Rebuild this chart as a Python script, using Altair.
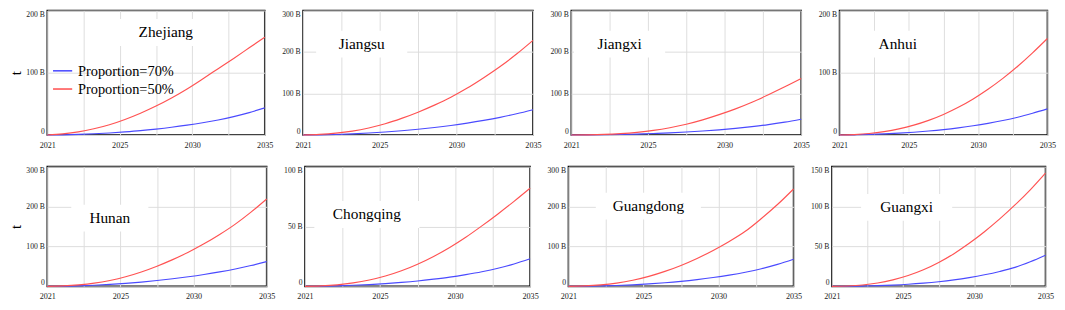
import altair as alt
import pandas as pd

SERIF = "Liberation Serif, Times New Roman, DejaVu Serif, serif"

years = list(range(2021, 2036))
series_names = ["Proportion=70%", "Proportion=50%"]
series_colors = ["#4a4aff", "#ff5252"]
provinces = ["Zhejiang", "Jiangsu", "Jiangxi", "Anhui",
             "Hunan", "Chongqing", "Guangdong", "Guangxi"]
x_tick_labels = ["2021", "2025", "2030", "2035"]

# values in billions (B), one per year 2021..2035
zhejiang_70 = [0, 0.3, 1, 2, 3.3, 5, 7, 9.5, 12.4, 15.8, 19.7, 24.2, 29.6, 36, 43.5]
zhejiang_50 = [0, 1.8, 5, 10, 16.5, 25, 35, 46.5, 59.5, 74, 90, 106.5, 123, 140, 157]
jiangsu_70 = [0, 0.4, 1.3, 2.8, 4.8, 7.3, 10.3, 13.9, 18.1, 23, 28.7, 35.2, 42.6, 51.2, 61]
jiangsu_50 = [0, 1.5, 4.5, 9.5, 17, 27, 40, 55, 72, 91, 113, 138, 165, 195, 228]
jiangxi_70 = [0, 0.2, 0.6, 1.3, 2.3, 3.6, 5.2, 7.2, 9.6, 12.5, 16, 20.2, 25, 31, 38]
jiangxi_50 = [0, 0.4, 1.4, 3.4, 6.5, 11, 17.5, 26, 36.5, 49, 63, 79, 97, 116, 136]
anhui_70 = [0, 0.3, 0.9, 1.8, 3, 4.5, 6.4, 8.7, 11.5, 14.8, 18.7, 23.2, 28.6, 35, 42]
anhui_50 = [0, 0.7, 2.4, 5.4, 9.8, 15.8, 23.5, 33, 44.5, 58, 73.5, 91, 110.5, 132, 155]
hunan_70 = [0, 0.4, 1.3, 2.8, 4.9, 7.6, 10.8, 14.6, 19, 24, 29.7, 36.2, 43.6, 52.2, 62]
hunan_50 = [0, 1.2, 3.7, 8, 14.8, 24, 36, 50.5, 67, 85.5, 106.5, 130, 156, 186, 219]
chongqing_70 = [0, 0.1, 0.4, 0.9, 1.5, 2.3, 3.3, 4.5, 6, 7.7, 9.8, 12.2, 15.1, 18.7, 23]
chongqing_50 = [0, 0.4, 1.3, 2.9, 5.3, 8.6, 13, 18.5, 25, 32.5, 41, 50.5, 60.5, 71, 82]
guangdong_70 = [0, 0.3, 1, 2.2, 3.9, 6.1, 9, 12.6, 17, 22.2, 28.3, 35.5, 44.2, 55, 68]
guangdong_50 = [0, 1.2, 3.7, 8.2, 15.2, 25, 37.5, 52.5, 70, 90, 112.5, 138, 170, 205, 244]
guangxi_70 = [0, 0.1, 0.4, 0.9, 1.6, 2.6, 4, 5.8, 8.1, 11, 14.5, 18.7, 23.8, 30.8, 39]
guangxi_50 = [0, 0.5, 1.7, 4.2, 8.2, 13.6, 20.8, 30, 41, 54, 68.5, 84.5, 102, 121, 142]

series_70 = [zhejiang_70, jiangsu_70, jiangxi_70, anhui_70,
             hunan_70, chongqing_70, guangdong_70, guangxi_70]
series_50 = [zhejiang_50, jiangsu_50, jiangxi_50, anhui_50,
             hunan_50, chongqing_50, guangdong_50, guangxi_50]
y_max = [200, 300, 300, 200, 300, 100, 300, 150]
y_step = [100, 100, 100, 100, 100, 50, 100, 50]

# ---- layout (not data) ----
row_widths = [[227, 240, 240, 217], [229, 235, 235, 223]]
row_heights = [130, 125]
# province-name anchor as fraction of the plot area (x, y)
name_frac = [(0.545, 0.177), (0.255, 0.27), (0.21, 0.27), (0.28, 0.27),
             (0.285, 0.43), (0.275, 0.40), (0.355, 0.33), (0.35, 0.34)]

grid_vals = [2021 + 14 * k / 6 for k in range(7)]
label_map = {0: x_tick_labels[0], 2: x_tick_labels[1], 4: x_tick_labels[2], 6: x_tick_labels[3]}
expr_parts = []
for k, lab in label_map.items():
    v = grid_vals[k]
    expr_parts.append(f"abs(datum.value - {v:.4f}) < 0.01 ? '{lab}'")
label_expr = " : ".join(expr_parts) + " : ''"


def make_panel(i, w, h, first_col):
    name = provinces[i]
    df = pd.DataFrame({
        "year": years + years,
        "value": series_70[i] + series_50[i],
        "series": [series_names[0]] * len(years) + [series_names[1]] * len(years),
    })
    legend = None
    if i == 0:
        legend = alt.Legend(
            orient="none", legendX=1, legendY=48, title=None,
            symbolType="stroke", symbolSize=400, symbolStrokeWidth=1.6,
            labelFont=SERIF, labelFontSize=15, labelColor="black",
            labelOffset=5, rowPadding=0, padding=4, labelLimit=0,
        )
    x_axis = alt.Axis(
        values=grid_vals, labelExpr=label_expr, title=None, grid=True,
        ticks=False, domain=False, labelFont=SERIF, labelFontSize=8.5,
        labelColor="#222", labelPadding=6, labelFlush=False, labelOverlap=False,
    )
    y_axis = alt.Axis(
        values=list(range(0, y_max[i] + 1, y_step[i])),
        labelExpr="datum.value == 0 ? '0' : datum.value + ' B'",
        title="t" if first_col else None, titleFont=SERIF, titleFontSize=15,
        titleFontWeight="normal", titleColor="black", titlePadding=3,
        grid=True, ticks=False, domain=False, labelFont=SERIF, labelFontSize=8,
        labelColor="#222", labelPadding=3, labelFlush=True,
    )
    lines = alt.Chart(df).mark_line(strokeWidth=1.2, interpolate="monotone").encode(
        x=alt.X("year:Q", scale=alt.Scale(domain=[2021, 2035], nice=False, zero=False), axis=x_axis),
        y=alt.Y("value:Q", scale=alt.Scale(domain=[0, y_max[i]], nice=False), axis=y_axis),
        color=alt.Color("series:N", scale=alt.Scale(domain=series_names, range=series_colors),
                        legend=legend, sort=series_names),
    )
    fx, fy = name_frac[i]
    px, py = fx * w, fy * h
    tw = len(name) * 7.3
    box = alt.Chart(alt.Data(values=[{}])).mark_rect(color="white").encode(
        x=alt.value(px - tw / 2 - 22), x2=alt.value(px + tw / 2 + 22),
        y=alt.value(py - 14), y2=alt.value(py + 14),
    )
    label = alt.Chart(alt.Data(values=[{}])).mark_text(
        text=name, font=SERIF, fontSize=16, color="black", baseline="middle", align="center"
    ).encode(x=alt.value(px), y=alt.value(py))
    return alt.layer(box, lines, label).properties(width=w, height=h)


rows = []
idx = 0
for r in range(2):
    panels = []
    for c in range(4):
        panels.append(make_panel(idx, row_widths[r][c], row_heights[r], c == 0))
        idx += 1
    rows.append(alt.hconcat(*panels, spacing=6).resolve_scale(color="independent"))

chart = alt.vconcat(*rows, spacing=16).resolve_scale(color="independent").properties(
    padding={"top": -5, "left": -1, "right": 0, "bottom": 0}
).configure_view(
    stroke="#000000", strokeWidth=1.6
).configure_axis(
    gridColor="#dcdcdc", gridWidth=1
)

chart.save("out.html", embed_options={"renderer": "svg", "actions": False})
